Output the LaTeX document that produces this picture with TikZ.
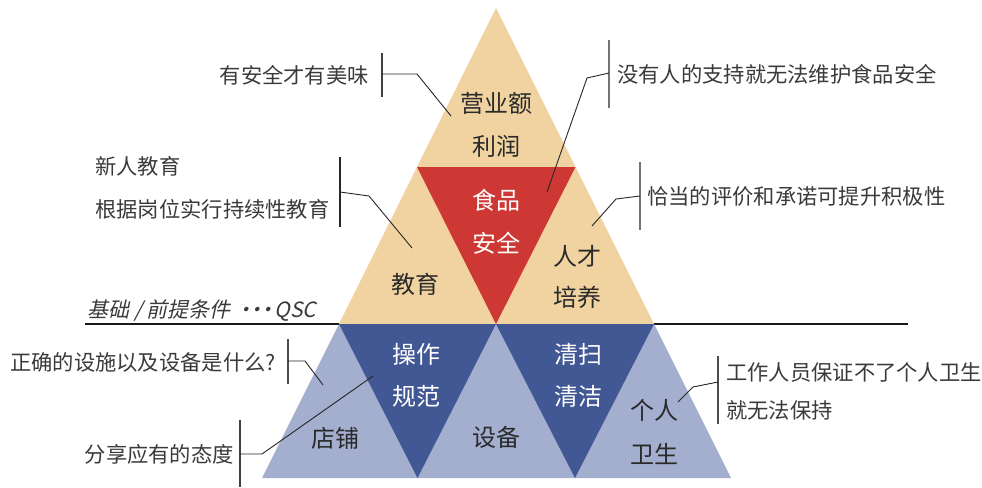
\documentclass[tikz,border=0pt]{standalone}
\usepackage{fontspec}
\setmainfont{Noto Sans CJK SC}
\newfontfamily\cjkslant[FakeSlant=0.22]{Noto Sans CJK SC}
\definecolor{tan}{HTML}{F0D3A0}
\definecolor{redc}{HTML}{CD3835}
\definecolor{darkb}{HTML}{425894}
\definecolor{lightb}{HTML}{A4AECF}
\definecolor{txt}{HTML}{2A2A2A}
\definecolor{anno}{HTML}{3A3A3A}
\newcommand{\qdot}{\makebox[11pt][c]{·}}
\begin{document}
\begin{tikzpicture}[x=1pt,y=-1pt,
  lbl/.style={inner sep=0pt,align=center,text=txt,font=\fontsize{24}{43}\selectfont},
  wlbl/.style={lbl,text=white},
  annot/.style={inner sep=0pt,text=anno,font=\fontsize{21.3}{43}\selectfont,align=left},
  bracket/.style={line width=1.4pt,draw=#1},
  bracket/.default={black!70},
  conn/.style={line width=0.9pt,draw=black!85}]
\useasboundingbox (0,0) rectangle (982,487);
% base line
\coordinate (hl) at (85,324);
\coordinate (hr) at (908,324);
\draw[line width=2.2pt,black!90] (hl) -- (hr);
% upper triangle
\fill[tan] (496,8) -- (339,324) -- (654,324) -- cycle;
\fill[redc] (417,167) -- (575.5,167) -- (496,324) -- cycle;
% lower trapezoid
\fill[lightb] (339,324) -- (654,324) -- (731,478) -- (262,478) -- cycle;
\fill[darkb] (339,324) -- (496,324) -- (417.5,478) -- cycle;
\fill[darkb] (496,324) -- (654,324) -- (575,478) -- cycle;
% labels
\node[lbl] (yye) at (496,125) {营业额\\利润};
\node[wlbl] (spaq) at (496,222) {食品\\安全};
\node[lbl] (jy) at (415,284) {教育};
\node[lbl,font=\fontsize{24}{41}\selectfont] (rc) at (577,277) {人才\\培养};
\node[wlbl,font=\fontsize{24}{42}\selectfont] (czgf) at (416,375) {操作\\规范};
\node[wlbl,font=\fontsize{24}{42}\selectfont] (qsqj) at (578,375) {清扫\\清洁};
\node[lbl] (dp) at (335,438) {店铺};
\node[lbl] (sb) at (496,437) {设备};
\node[lbl,font=\fontsize{24}{44}\selectfont] (grws) at (654,432) {个人\\卫生};
% base text
\node[inner sep=0pt,anchor=base west,text=anno,font=\cjkslant\fontsize{21}{24}\selectfont] (qsc) at (87,317)
  {基础\hspace{5pt}/\hspace{4pt}前提条件\hspace{9pt}\qdot\qdot\qdot\hspace{2pt}QSC};
% annotation 1
\node[annot,anchor=east] (a1) at (369,75) {有安全才有美味};
\coordinate (b1t) at (382,53); \coordinate (b1b) at (382,97);
\coordinate (b1m) at (382,74); \coordinate (b1e) at (417,74); \coordinate (b1p) at (451,116);
\draw[bracket={black!75}] (b1t) -- (b1b);
\draw[conn] (b1m) -- (b1e) -- (b1p);
% annotation 2
\node[annot,anchor=west] (a2) at (617,74) {没有人的支持就无法维护食品安全};
\coordinate (b2t) at (609,40); \coordinate (b2b) at (609,108);
\coordinate (b2m) at (609,73); \coordinate (b2e) at (587,78); \coordinate (b2p) at (547,192);
\draw[bracket={black!55}] (b2t) -- (b2b);
\draw[conn] (b2m) -- (b2e) -- (b2p);
% annotation 3
\node[annot,anchor=west] (a3) at (647,196) {恰当的评价和承诺可提升积极性};
\coordinate (b3t) at (640,162); \coordinate (b3b) at (640,230);
\coordinate (b3m) at (640,196); \coordinate (b3e) at (616,199); \coordinate (b3p) at (592,226);
\draw[bracket={black!55}] (b3t) -- (b3b);
\draw[conn] (b3m) -- (b3e) -- (b3p);
% annotation 4
\node[annot,anchor=west] (a4) at (95,188) {新人教育\\根据岗位实行持续性教育};
\coordinate (b4t) at (340,157); \coordinate (b4b) at (340,227);
\coordinate (b4m) at (340,192); \coordinate (b4e) at (369,196); \coordinate (b4p) at (412,248);
\draw[bracket={black!85}] (b4t) -- (b4b);
\draw[conn] (b4m) -- (b4e) -- (b4p);
% annotation 5
\node[annot,anchor=east] (a5) at (276,362) {正确的设施以及设备是什么?};
\coordinate (b5t) at (288,339); \coordinate (b5b) at (288,384);
\coordinate (b5m) at (288,361); \coordinate (b5e) at (305,361); \coordinate (b5p) at (323,385);
\draw[bracket={black!70}] (b5t) -- (b5b);
\draw[conn] (b5m) -- (b5e) -- (b5p);
% annotation 6
\node[annot,anchor=east] (a6) at (234,454) {分享应有的态度};
\coordinate (b6t) at (240,420); \coordinate (b6b) at (240,487);
\coordinate (b6m) at (240,454); \coordinate (b6e) at (262,454); \coordinate (b6p) at (373,376);
\draw[bracket={black!75}] (b6t) -- (b6b);
\draw[conn] (b6m) -- (b6e) -- (b6p);
% annotation 7
\node[annot,anchor=west,font=\fontsize{21.3}{38}\selectfont] (a7) at (726,391) {工作人员保证不了个人卫生\\就无法保持};
\coordinate (b7t) at (718,356); \coordinate (b7b) at (718,424);
\coordinate (b7m) at (718,382); \coordinate (b7e) at (693,387); \coordinate (b7p) at (678,402);
\draw[bracket={black!70}] (b7t) -- (b7b);
\draw[conn] (b7m) -- (b7e) -- (b7p);
\end{tikzpicture}
\end{document}
